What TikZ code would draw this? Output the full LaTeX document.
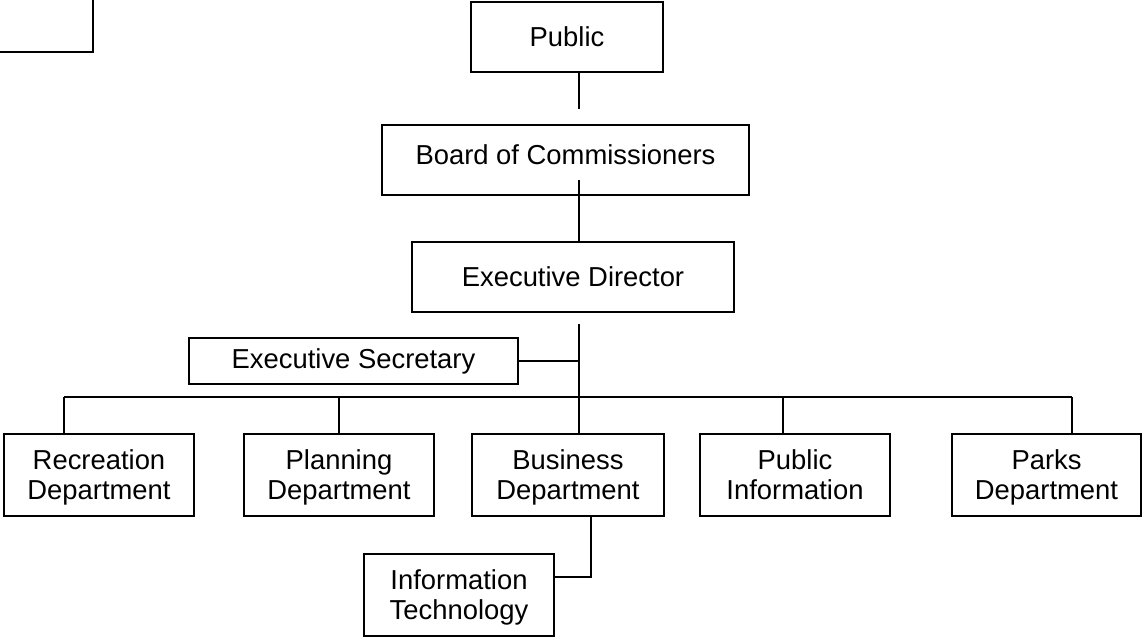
\documentclass[tikz,border=0pt]{standalone}
\usepackage{fontspec}
\setmainfont{Liberation Sans}
\usepackage{tikz}
\usetikzlibrary{calc}
\usetikzlibrary{positioning}
\tikzset{>=latex}
\tikzstyle{box} = [draw, line width=.75pt, inner sep=0, align=center, font=\fontsize{13.7}{15}\selectfont]
\tikzstyle{dept} = [box, minimum width=95pt, minimum height=41pt, text depth=0pt]
\tikzstyle{wire} = [-, line width=.75pt]

\begin{document}
\begin{tikzpicture}[x=0.5pt, y=-0.5pt]
\clip (0,0) rectangle (1143,637);
\useasboundingbox (0,0) rectangle (1143,637);
% left-over box in the corner
\node [box, minimum width=100pt, minimum height=50pt] (corner) at (-7, 2) {};
\node [box, minimum width=96pt, minimum height=35pt] (pub) at (567, 37) {Public};
\node [box, minimum width=183.5pt, minimum height=35pt, text depth=5pt] (board) at (565.5, 160) {Board of Commissioners};
\node [box, minimum width=161pt, minimum height=35pt] (dir) at (573, 277) {Executive Director};
\node [box, minimum width=164.5pt, minimum height=23pt] (sec) at (353.5, 361) {Executive Secretary};
\node [dept] (rec) at (99, 475) {Recreation\\Department};
\node [dept] (plan) at (339, 475) {Planning\\Department};
\node [dept, minimum width=96pt] (bus) at (568, 475) {Business\\Department};
\node [dept] (info) at (795, 475) {Public\\Information};
\node [dept, minimum width=94.5pt] (parks) at (1046.5, 475) {Parks\\Department};
\node [dept] (it) at (459, 595) {Information\\Technology};
\coordinate (c1) at (579, 109);
\coordinate (c2) at (579, 180);
\coordinate (c3) at (579, 324);
\coordinate (k) at (591, 577);
\draw [wire] (pub.south -| c1) to (c1);
\draw [wire] (c2) to (c2 |- dir.north);
\draw [wire] (c3) to (c3 |- bus.north);
\draw [wire] (sec.east) to (sec.east -| c3);
\foreach \n/\x in {rec/64, plan/339, info/783, parks/1072} {
  \coordinate (t\n) at (\x, 397);
  \draw [wire] (t\n) to (t\n |- \n.north);
}
\draw [wire] (trec) to (tparks);
\draw [wire] (k |- bus.south) -- (k) -- (k -| it.east);
\end{tikzpicture}
\end{document}
